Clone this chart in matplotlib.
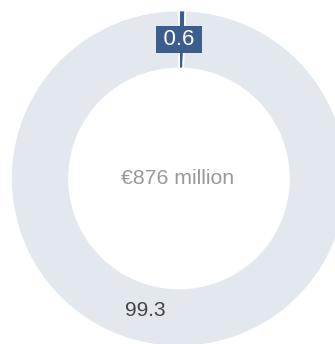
import numpy as np
import matplotlib
matplotlib.use("Agg")
import matplotlib.pyplot as plt

plt.rcParams['font.family'] = ['Liberation Sans', 'DejaVu Sans']

labels = ["0.6", "99.3"]
values = [0.6, 99.3]
colors = ["#3d5d8e", "#e3e8ef"]
center_text = "€876 million"

fig = plt.figure(figsize=(3.35, 3.44), dpi=100)
ax = fig.add_axes([0, 0, 1, 1])

outer_r = 168
ring_w = 58
ax.pie(values, radius=outer_r, colors=colors, startangle=90, counterclock=False,
       wedgeprops=dict(width=ring_w, edgecolor="white", linewidth=1.2))

# center text
ax.text(-1.5, 0, center_text, ha="center", va="center", fontsize=15.3, color="#999999")

# small slice label in a dark box at ring middle
mid_r = outer_r - ring_w / 2
ax.text(0, mid_r, "\u2009" + labels[0] + "\u2009", ha="center", va="center", fontsize=16,
        color="white", bbox=dict(boxstyle="square,pad=0.15", fc=colors[0], ec="none"))

# big slice label
ax.text(-34, -131.5, labels[1], ha="center", va="center", fontsize=15, color="#444444")

ax.set_xlim(-179, 335 - 179)
ax.set_ylim(-(344 - 178.5), 178.5)
ax.set_aspect("equal")
ax.axis("off")

fig.savefig("out.png", dpi=100)
